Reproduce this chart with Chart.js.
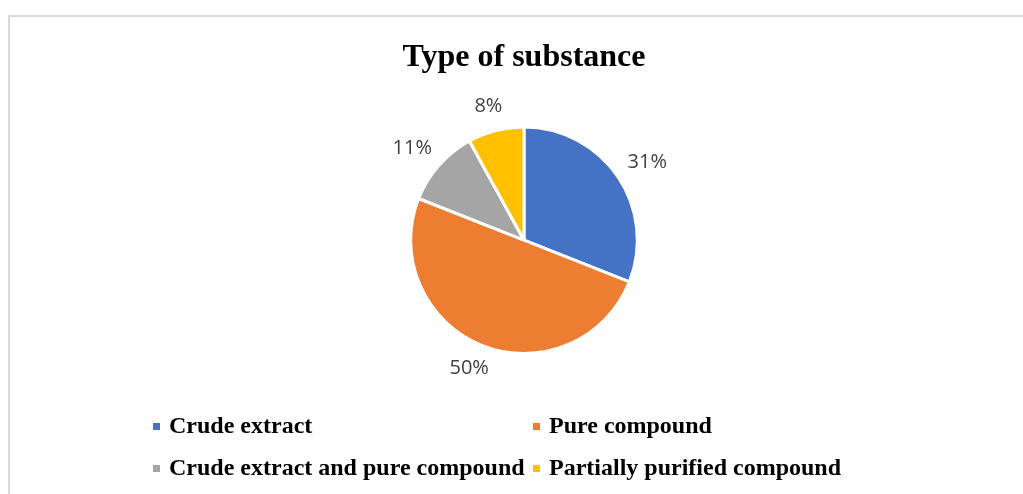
<!DOCTYPE html>
<html>
<head>
<meta charset="utf-8">
<script src="https://cdn.jsdelivr.net/npm/chart.js@4.4.1/dist/chart.umd.min.js"></script>
<style>
  html, body { margin: 0; padding: 0; background: #fff; overflow: hidden; }
  #frame { position: absolute; left: 8px; top: 15px; width: 1100px; height: 600px;
           border-left: 2px solid #d9d9d9; border-top: 2px solid #d9d9d9; }
  #chart { position: absolute; left: 0; top: 0; }
</style>
</head>
<body>
<div id="frame"></div>
<canvas id="chart" width="1023" height="494"></canvas>
<script>
const labels = ['Crude extract', 'Pure compound', 'Crude extract and pure compound', 'Partially purified compound'];
const shares = [31, 50, 11, 8];
const colors = ['#4472c4', '#ed7d31', '#a5a5a5', '#ffc000'];

// percentage labels just outside each slice
const outsideLabels = {
    id: 'outsideLabels',
    afterDatasetsDraw(chart, _args, opts) {
        const { ctx } = chart;
        const meta = chart.getDatasetMeta(0);
        ctx.save();
        ctx.font = opts.font;
        ctx.fillStyle = opts.color;
        ctx.textAlign = 'center';
        ctx.textBaseline = 'middle';
        meta.data.forEach((arc, i) => {
            const { x, y, startAngle, endAngle, outerRadius } =
                arc.getProps(['x', 'y', 'startAngle', 'endAngle', 'outerRadius'], true);
            const mid = (startAngle + endAngle) / 2;
            const ux = Math.cos(mid);
            const uy = Math.sin(mid);
            const text = shares[i] + '%';
            const hw = ctx.measureText(text).width / 2;
            const d = outerRadius + opts.gap;
            ctx.fillText(text, x + ux * (d + hw), y + uy * (d + opts.halfHeight));
        });
        ctx.restore();
    },
};

// two-column legend under the pie
const gridLegend = {
    id: 'gridLegend',
    afterDraw(chart, _args, opts) {
        const { ctx } = chart;
        ctx.save();
        ctx.font = opts.font;
        ctx.textAlign = 'left';
        ctx.textBaseline = 'alphabetic';
        labels.forEach((label, i) => {
            const x = opts.columns[i % 2];
            const y = opts.rows[Math.floor(i / 2)];
            ctx.fillStyle = colors[i];
            ctx.fillRect(x, y - opts.box - 3, opts.box, opts.box);
            ctx.fillStyle = opts.color;
            ctx.fillText(label, x + opts.textGap, y);
        });
        ctx.restore();
    },
};

new Chart(document.getElementById('chart'), {
    type: 'pie',
    data: {
        labels,
        datasets: [{
            data: shares,
            backgroundColor: colors,
            borderColor: '#ffffff',
            borderWidth: 3,
            hoverBorderWidth: 3,
        }],
    },
    plugins: [outsideLabels, gridLegend],
    options: {
        responsive: false,
        animation: false,
        layout: { padding: { left: 25, right: 0, top: 0, bottom: 139 } },
        plugins: {
            legend: { display: false },
            tooltip: { enabled: false },
            title: {
                display: true,
                text: 'Type of substance',
                color: '#000000',
                font: { family: "'Liberation Serif', 'Times New Roman', serif", size: 32, weight: 'bold' },
                padding: { top: 39, bottom: 48 },
            },
            outsideLabels: {
                font: "20px 'Open Sans', sans-serif",
                color: '#404040',
                gap: 16,
                halfHeight: 9,
            },
            gridLegend: {
                font: "bold 24px 'Liberation Serif', 'Times New Roman', serif",
                color: '#000000',
                columns: [153, 533],
                rows: [433, 475],
                box: 7,
                textGap: 16,
            },
        },
    },
});
</script>
</body>
</html>
